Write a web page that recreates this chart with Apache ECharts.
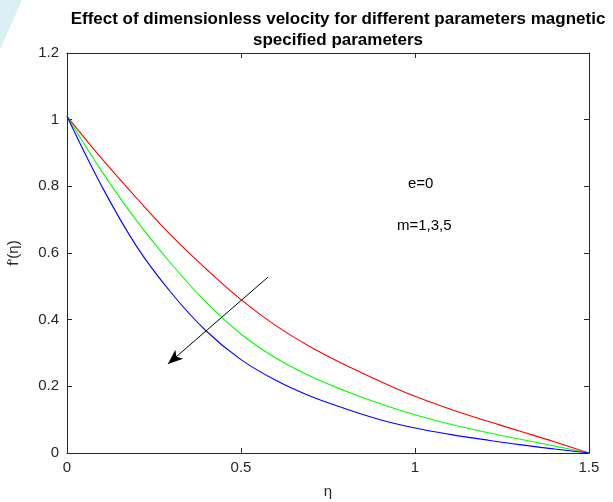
<!DOCTYPE html>
<html>
<head>
<meta charset="utf-8">
<script src="https://cdn.jsdelivr.net/npm/echarts@6/dist/echarts.min.js"></script>
<style>
  html, body { margin: 0; padding: 0; background: #fff; }
  #main { width: 613px; height: 502px; }
</style>
</head>
<body>
<div id="main"></div>
<script>
//----------- Data
const etaValues = [0, 0.1, 0.2, 0.3, 0.4, 0.5, 0.6, 0.7, 0.8, 0.9, 1.0, 1.1, 1.2, 1.3, 1.4, 1.5];
const redValues = [1.01, 0.883, 0.765, 0.652, 0.552, 0.46, 0.382, 0.318, 0.264, 0.215, 0.17, 0.132, 0.098, 0.066, 0.034, 0];
const greenValues = [1.01, 0.845, 0.697, 0.567, 0.452, 0.357, 0.285, 0.23, 0.186, 0.148, 0.115, 0.087, 0.063, 0.042, 0.021, 0];
const blueValues = [1.01, 0.80, 0.62, 0.48, 0.366, 0.28, 0.218, 0.17, 0.133, 0.10, 0.075, 0.056, 0.04, 0.025, 0.012, 0];
const arrowFrom = [0.578, 0.528];
const arrowTo = [0.29, 0.267];
const xTicks = [0, 0.5, 1, 1.5];
//----------- Data

const axisColor = "#262626";
const font = "Liberation Sans, Arial, sans-serif";

const pair = vals => etaValues.map((x, i) => [x, vals[i]]);

const myChart = echarts.init(document.getElementById("main"));

const lineSeries = (name, color, vals) => ({
    name: name,
    type: "line",
    smooth: 0.4,
    showSymbol: false,
    silent: true,
    lineStyle: {color: color, width: 1.1},
    data: pair(vals)
});

//Box axes (top and right), ticks only
const boxAxis = {
    axisLine: {show: true, onZero: false, lineStyle: {color: axisColor, width: 1}},
    axisTick: {show: true, inside: true, length: 5, lineStyle: {color: axisColor}},
    axisLabel: {show: false},
    splitLine: {show: false}
};

const option = {
    animation: false,
    backgroundColor: "#fff",
    title: {
        text: "Effect of dimensionless velocity for different parameters magnetic\nspecified parameters",
        left: 333,
        top: 4,
        textAlign: "center",
        textStyle: {
            fontFamily: font,
            fontWeight: "bold",
            fontSize: 17,
            lineHeight: 21,
            color: "#000"
        }
    },
    grid: {left: 67, right: 24, top: 53, bottom: 49, outerBoundsMode: "none", containLabel: false},
    xAxis: [
        {
            type: "value",
            min: 0,
            max: 1.5,
            interval: 0.5,
            name: "η",
            nameLocation: "middle",
            nameGap: 31,
            nameTextStyle: {fontFamily: font, fontSize: 15, color: axisColor},
            axisLine: {onZero: false, lineStyle: {color: axisColor, width: 1}},
            axisTick: {inside: true, length: 5, lineStyle: {color: axisColor}},
            axisLabel: {
                margin: 7,
                fontFamily: font,
                fontSize: 15,
                color: axisColor,
                formatter: v => xTicks.includes(+v.toFixed(2)) ? String(+v.toFixed(2)) : ""
            },
            splitLine: {show: false}
        },
        Object.assign({type: "value", position: "top", min: 0, max: 1.5, interval: 0.5}, boxAxis)
    ],
    yAxis: [
        {
            type: "value",
            min: 0,
            max: 1.2,
            interval: 0.2,
            name: "f'(η)",
            nameLocation: "middle",
            nameGap: 46,
            nameTextStyle: {fontFamily: font, fontSize: 15, color: axisColor},
            axisLine: {show: true, onZero: false, lineStyle: {color: axisColor, width: 1}},
            axisTick: {show: true, inside: true, length: 5, lineStyle: {color: axisColor}},
            axisLabel: {
                margin: 8,
                fontFamily: font,
                fontSize: 15,
                color: axisColor,
                formatter: v => String(+v.toFixed(2))
            },
            splitLine: {show: false}
        },
        Object.assign({type: "value", position: "right", min: 0, max: 1.2, interval: 0.2}, boxAxis)
    ],
    series: [
        lineSeries("m=1", "#ff0000", redValues),
        lineSeries("m=3", "#00ff00", greenValues),
        Object.assign(lineSeries("m=5", "#0000ff", blueValues), {
            markLine: {
                silent: true,
                animation: false,
                symbolSize: [9, 15],
                label: {show: false},
                lineStyle: {color: "#000", width: 1, type: "solid"},
                data: [[
                    {coord: arrowFrom, symbol: "none"},
                    {coord: arrowTo, symbol: "arrow"}
                ]]
            }
        })
    ],
    graphic: [
        {
            type: "polygon",
            shape: {points: [[0, 0], [22, 0], [0, 50]]},
            style: {fill: "#dcefF6"},
            silent: true
        },
        {
            type: "text",
            left: 408,
            top: 176,
            style: {text: "e=0", font: "15px " + font, fill: "#000"}
        },
        {
            type: "text",
            left: 397,
            top: 218,
            style: {text: "m=1,3,5", font: "15px " + font, fill: "#000"}
        }
    ]
};

myChart.setOption(option);
</script>
</body>
</html>
